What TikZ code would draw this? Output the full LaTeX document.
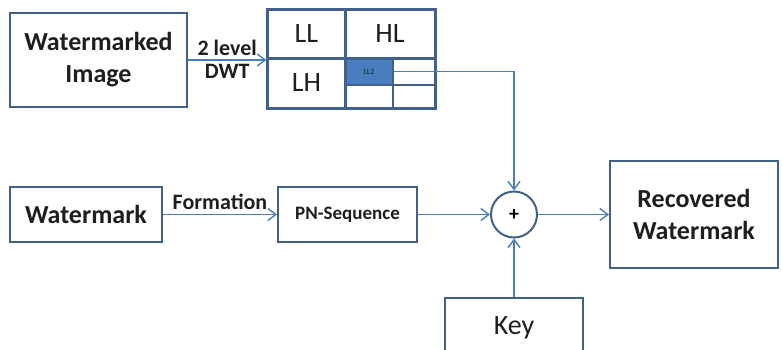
\documentclass[tikz,border=0pt]{standalone}
\usepackage{fontspec}
\setmainfont{Carlito}
\usepackage{tikz}
\usetikzlibrary{arrows.meta,calc,fit,positioning}
\definecolor{WMFrame}{HTML}{41618C}
\definecolor{WMLine}{HTML}{4A7EBB}
\definecolor{WMDark}{HTML}{4A7CC0}
\definecolor{WMText}{HTML}{1E1E1E}

\begin{document}
\begin{tikzpicture}[
      x=0.5pt,y=-0.5pt,
      box/.style={draw=WMFrame,line width=1pt,fill=white,inner sep=0pt,align=center,text=WMText},
      cell/.style={draw=WMFrame,line width=0.6pt,inner sep=0pt,font=\fontsize{14}{16}\selectfont,text=WMText},
      sum/.style={circle,draw=WMFrame,line width=1pt,fill=white,minimum size=23pt,inner sep=0pt},
      arrow/.style={-{Straight Barb[length=4pt,width=6pt]},line width=0.7pt,color=WMLine},
      lbl/.style={font=\fontsize{11}{12}\selectfont\bfseries,text=WMText,inner sep=2pt}
    ]
      \clip (0,0) rectangle (782,349);
      \useasboundingbox (0,0) rectangle (782,349);
      % top row: image and its decomposition
      \node[box,minimum width=88.5pt,minimum height=47pt,font=\fontsize{13}{16}\selectfont\bfseries]
        (wimg) at (98.5,60) {Watermarked\\Image};
      \node[cell,minimum width=38.5pt,minimum height=24pt] (ll) at (306.5,34) {LL};
      \node[cell,minimum width=45pt,minimum height=24pt] (hl) at (390,34) {HL};
      \node[cell,minimum width=38.5pt,minimum height=25pt] (lh) at (306.5,83) {LH};
      \node[cell,fill=WMDark,minimum width=24pt,minimum height=13.5pt,font=\fontsize{4}{4}\selectfont\bfseries,text=WMFrame!60!black]
        (ll2) at (369,71.5) {LL2};
      \node[cell,minimum width=21pt,minimum height=13.5pt] (hl2) at (414,71.5) {};
      \node[cell,minimum width=24pt,minimum height=11.5pt] (lh2) at (369,96.5) {};
      \node[cell,minimum width=21pt,minimum height=11.5pt] (hh2) at (414,96.5) {};
      \node[draw=WMFrame,line width=1pt,inner sep=0pt,fit=(ll)(hh2)] (dwt) {};
      \draw[draw=WMFrame,line width=1pt] (ll.north east) -- (lh.south east);
      \draw[draw=WMFrame,line width=1pt] (ll.south west) -- (hl.south east);
      % bottom row
      \node[box,minimum width=76pt,minimum height=27.5pt,font=\fontsize{13}{16}\selectfont\bfseries]
        (wm) at (86,214.5) {Watermark};
      \node[box,minimum width=69.5pt,minimum height=27.5pt,font=\fontsize{9.5}{11}\selectfont\bfseries]
        (pn) at (347.5,214.5) {PN-Sequence};
      \node[sum] (add) at (514,214.5) {\bfseries+};
      \node[box,minimum width=84pt,minimum height=53.5pt,font=\fontsize{13}{16}\selectfont\bfseries]
        (rec) at (694,214.5) {Recovered\\Watermark};
      \node[box,minimum width=69pt,minimum height=30pt,font=\fontsize{14}{16}\selectfont]
        (key) at (514,328) {Key};
      \draw[arrow] (wimg.east) -- node[lbl,above] {2 level} node[lbl,below] {DWT} (wimg.east -| dwt.west);
      \draw[arrow] (ll2.east) -| (add.north);
      \draw[arrow] (wm.east) -- node[lbl,above] {Formation} (pn.west);
      \draw[arrow] (pn.east) -- (add.west);
      \draw[arrow] (key.north) -- (add.south);
      \draw[arrow] (add.east) -- (rec.west);
    \end{tikzpicture}
\end{document}
